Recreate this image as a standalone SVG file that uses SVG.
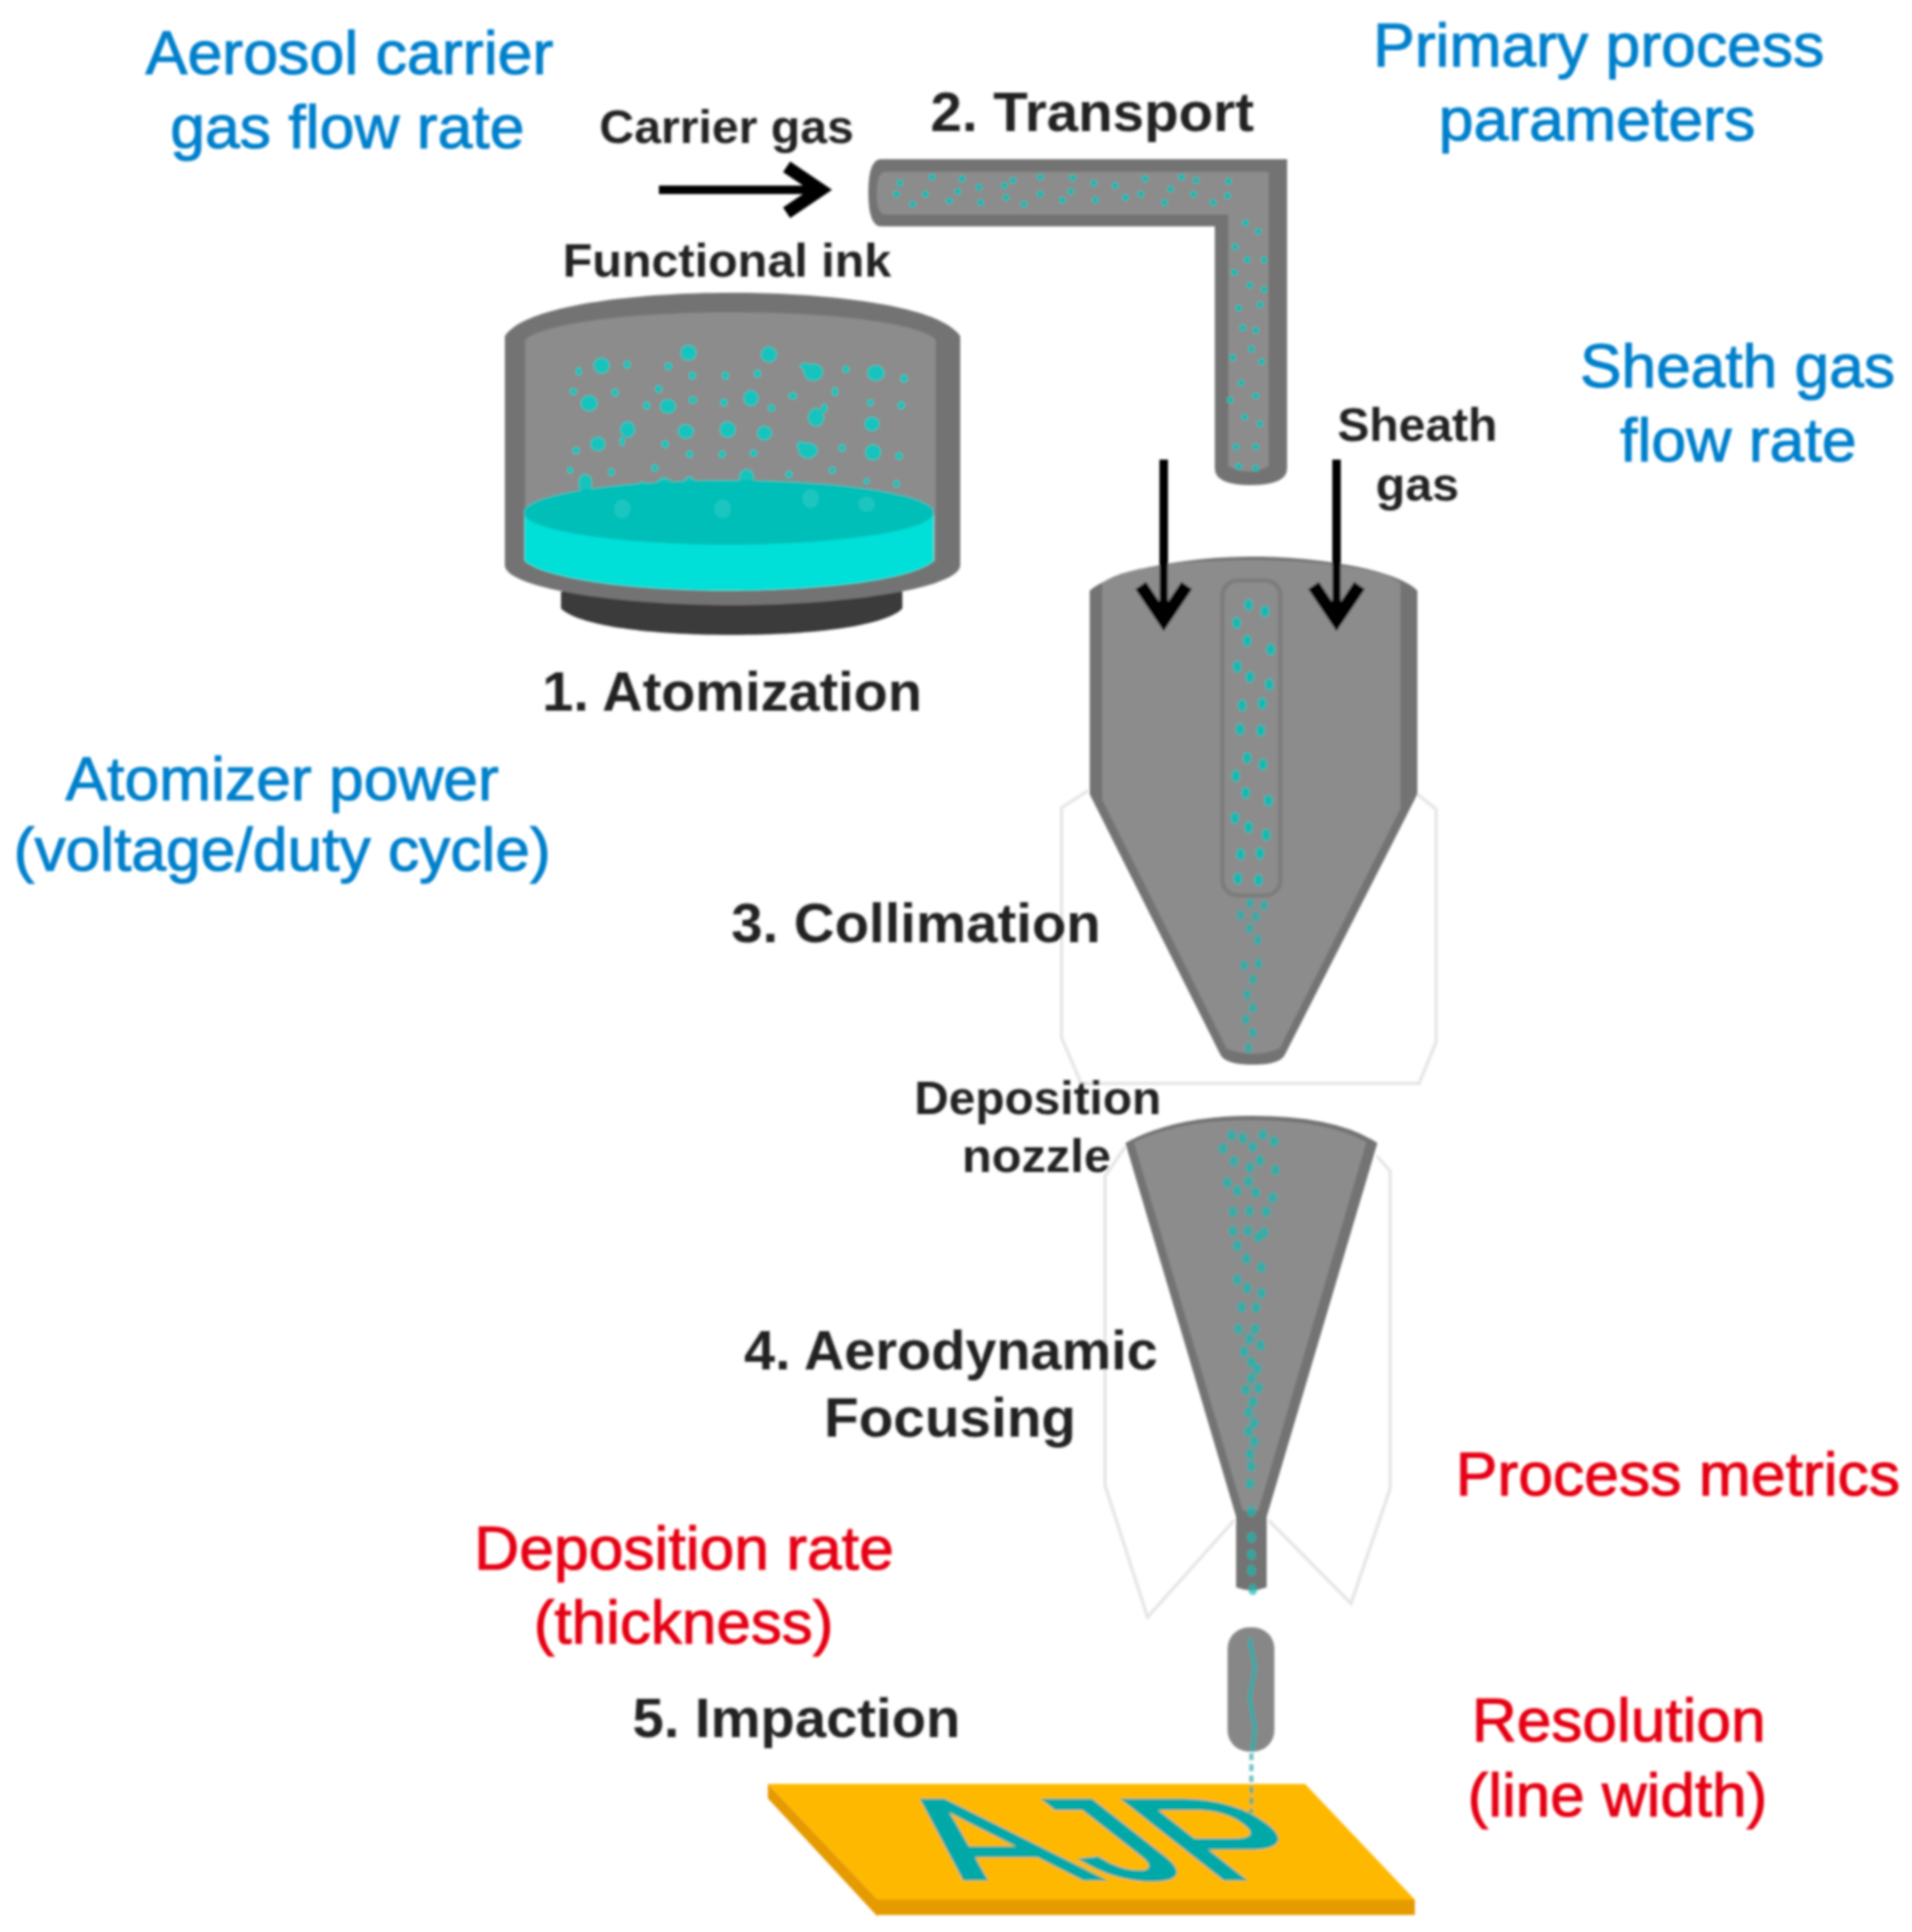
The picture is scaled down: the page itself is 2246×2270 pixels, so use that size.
<svg xmlns="http://www.w3.org/2000/svg" width="2246" height="2270" viewBox="0 0 2246 2270">
<style>
text{font-family:"Liberation Sans",Arial,sans-serif}
.b{fill:#0080cc;stroke:#0080cc;stroke-width:1.2px;font-size:72px}
.r{fill:#e60012;stroke:#e60012;stroke-width:1.2px;font-size:72px}
.k{fill:#222;font-weight:bold;font-size:64px}
.s{fill:#222;font-weight:bold;font-size:55px}
.o{fill:#737373}
.i{fill:#8c8c8c}
.f{fill:none;stroke:#e6e6e6;stroke-width:4}
.d{fill:none;stroke:#14b9b2;stroke-linecap:round}
.a{fill:none;stroke:#000;stroke-width:10}
</style>
<defs>
<filter id="soft" filterUnits="userSpaceOnUse" x="0" y="0" width="2246" height="2270"><feGaussianBlur stdDeviation="1.8"/></filter>
<marker id="head" markerUnits="userSpaceOnUse" markerWidth="70" markerHeight="70" refX="52" refY="30" orient="auto" overflow="visible"><path d="M8 3L48 30L8 57" fill="none" stroke="#000" stroke-width="15"/></marker>
</defs>
<rect width="2246" height="2270" fill="#fff"/>
<g filter="url(#soft)">
<g id="outlines">
<path class="f" d="M1278 929L1247 949V1219L1270 1273H1667L1687 1224V951L1665 933"/>
<path class="f" d="M1322 1347L1298 1382V1745L1348 1900L1450 1786"/>
<path class="f" d="M1617 1358L1633 1376V1749L1587 1884L1490 1786"/>
</g>
<g id="atomizer">
<path d="M659 695V715C680 735 760 746 860 746S1040 735 1060 715V695Z" fill="#3a3a3a"/>
<path class="o" d="M593 664V395C615 360 740 344 860 344S1105 360 1128 395V664C1128 690 1000 711 860 711S593 690 593 664Z"/>
<path class="i" d="M617 399C640 380 740 367 860 367S1080 380 1099 399V660H617Z"/>
<g transform="translate(560 100) scale(.6378 .4337)" fill="#14c4bd">
<ellipse cx="230" cy="760" rx="15" ry="22"/><ellipse cx="188" cy="775" rx="6" ry="12"/><ellipse cx="277" cy="757" rx="7" ry="11"/><ellipse cx="353" cy="762" rx="7" ry="11"/><ellipse cx="390" cy="725" rx="15" ry="22"/><ellipse cx="538" cy="730" rx="15" ry="22"/><ellipse cx="397" cy="787" rx="7" ry="11"/><ellipse cx="458" cy="787" rx="7" ry="11"/><ellipse cx="517" cy="782" rx="7" ry="11"/><ellipse cx="620" cy="778" rx="18" ry="24"/><ellipse cx="605" cy="762" rx="10" ry="10"/><ellipse cx="680" cy="770" rx="7" ry="10"/><ellipse cx="735" cy="780" rx="16" ry="22"/><ellipse cx="787" cy="795" rx="7" ry="11"/><ellipse cx="178" cy="830" rx="7" ry="10"/><ellipse cx="255" cy="833" rx="7" ry="11"/><ellipse cx="335" cy="823" rx="7" ry="11"/><ellipse cx="207" cy="862" rx="16" ry="22"/><ellipse cx="313" cy="868" rx="7" ry="11"/><ellipse cx="352" cy="870" rx="15" ry="20"/><ellipse cx="398" cy="853" rx="8" ry="10"/><ellipse cx="455" cy="860" rx="7" ry="11"/><ellipse cx="505" cy="848" rx="14" ry="22"/><ellipse cx="543" cy="875" rx="7" ry="10"/><ellipse cx="582" cy="842" rx="8" ry="10"/><ellipse cx="660" cy="830" rx="6" ry="12"/><ellipse cx="725" cy="860" rx="6" ry="10"/><ellipse cx="782" cy="867" rx="7" ry="11"/><ellipse cx="625" cy="900" rx="15" ry="25"/><ellipse cx="640" cy="875" rx="6" ry="12"/><ellipse cx="728" cy="918" rx="14" ry="20"/><ellipse cx="278" cy="933" rx="14" ry="22"/><ellipse cx="268" cy="965" rx="5" ry="14"/><ellipse cx="385" cy="938" rx="15" ry="20"/><ellipse cx="462" cy="933" rx="15" ry="22"/><ellipse cx="530" cy="943" rx="14" ry="20"/><ellipse cx="223" cy="972" rx="14" ry="20"/><ellipse cx="347" cy="973" rx="7" ry="11"/><ellipse cx="183" cy="990" rx="7" ry="10"/><ellipse cx="392" cy="1000" rx="7" ry="10"/><ellipse cx="452" cy="1000" rx="7" ry="10"/><ellipse cx="510" cy="997" rx="7" ry="10"/><ellipse cx="610" cy="990" rx="18" ry="22"/><ellipse cx="597" cy="975" rx="8" ry="10"/><ellipse cx="673" cy="983" rx="7" ry="10"/><ellipse cx="730" cy="995" rx="15" ry="22"/><ellipse cx="778" cy="1005" rx="7" ry="10"/><ellipse cx="172" cy="1043" rx="6" ry="9"/><ellipse cx="248" cy="1048" rx="6" ry="11"/><ellipse cx="328" cy="1037" rx="7" ry="10"/><ellipse cx="655" cy="1043" rx="6" ry="10"/><ellipse cx="575" cy="1055" rx="7" ry="10"/><ellipse cx="718" cy="1073" rx="6" ry="8"/><ellipse cx="773" cy="1080" rx="6" ry="10"/><ellipse cx="200" cy="1078" rx="13" ry="25"/><ellipse cx="345" cy="1083" rx="15" ry="20"/><ellipse cx="392" cy="1075" rx="10" ry="15"/><ellipse cx="497" cy="1062" rx="14" ry="22"/><ellipse cx="535" cy="1085" rx="7" ry="8"/><ellipse cx="445" cy="1077" rx="7" ry="8"/><ellipse cx="305" cy="1082" rx="8" ry="8"/>
</g>
<path d="M616 605V659C640 680 740 694 856 694S1075 680 1097 659V605Z" fill="#00e0d8"/>
<ellipse cx="856" cy="602" rx="241" ry="38" fill="#00bfb8"/>
<g transform="translate(560 100) scale(.6378 .4337)" fill="#1cc6c0">
<ellipse cx="268" cy="1148" rx="15" ry="25"/><ellipse cx="453" cy="1148" rx="15" ry="25"/><ellipse cx="615" cy="1120" rx="15" ry="25"/><ellipse cx="718" cy="1135" rx="15" ry="20"/>
</g>
</g>
<g id="transport">
<path class="o" d="M1035 187H1512V550Q1512 570 1469 570Q1427 570 1427 550V266H1035Q1020 266 1020 226Q1020 187 1035 187Z"/>
<path class="i" d="M1040 202H1490V548Q1467 560 1443 548V252H1040Q1030 252 1030 227Q1030 202 1040 202Z"/>
<path class="d" stroke-width="8" d="M1057 215h0M1053 228h0M1072 240h0M1095 208h0M1087 228h0M1115 236h0M1130 210h0M1125 225h0M1150 220h0M1152 238h0M1180 218h0M1190 212h0M1182 232h0M1203 240h0M1222 208h0M1222 228h0M1248 235h0M1260 209h0M1258 225h0M1285 215h0M1287 235h0M1310 218h0M1322 232h0M1345 210h0M1340 228h0M1368 238h0M1388 208h0M1375 222h0M1405 212h0M1402 228h0M1425 238h0M1443 213h0M1442 230h0M1463 262h0M1478 272h0M1451 290h0M1465 305h0M1485 305h0M1450 320h0M1468 335h0M1485 340h0M1455 362h0M1480 358h0M1460 385h0M1475 388h0M1448 420h0M1470 410h0M1482 425h0M1458 450h0M1475 465h0M1445 470h0M1462 490h0M1480 498h0M1452 525h0M1475 525h0M1455 548h0M1475 550h0"/>
</g>
<g id="collimator">
<path class="o" d="M1280 694C1310 668 1400 654 1472 654S1640 668 1665 694V933L1510 1238Q1505 1251 1472 1251Q1438 1251 1433 1238L1280 933Z"/>
<path class="i" d="M1295 685C1320 665 1400 658 1472 658S1625 668 1645 685V950L1503 1232Q1472 1244 1441 1232L1295 940Z"/>
<rect class="i" x="1436" y="682" width="68" height="370" rx="18" stroke="#7b7b7b" stroke-width="5"/>
<g transform="translate(1200 620) scale(.3333 .4472)">
<path class="d" stroke-width="32" d="M800 203h0M858 220h0M758 250h0M795 297h0M878 320h0M760 365h0M805 392h0M873 412h0M777 467h0M848 462h0M770 530h0M843 533h0M795 605h0M850 622h0M755 652h0M790 697h0M870 717h0M752 763h0M800 787h0M862 807h0M772 858h0M840 856h0M762 922h0M835 926h0"/>
<path class="d" stroke-width="28" opacity=".65" d="M805 987h0M855 993h0M772 1018h0M825 1022h0M803 1053h0M832 1083h0M785 1150h0M835 1145h0M815 1187h0M795 1227h0M815 1262h0M790 1292h0M815 1327h0M800 1367h0"/>
</g>
</g>
<g id="nozzle">
<path class="o" d="M1322 1343Q1380 1311 1470 1311Q1570 1311 1618 1343L1488 1782V1865Q1470 1872 1452 1865V1782Z"/>
<path class="i" d="M1332 1342Q1385 1316 1470 1316Q1560 1316 1605 1342L1478 1775H1460Z"/>
<g transform="translate(1240 1280) scale(.3333 .408)">
<path class="d" stroke-width="32" opacity=".7" d="M620 132h0M660 140h0M730 130h0M770 150h0M590 170h0M695 165h0M628 207h0M720 205h0M685 225h0M775 232h0M605 268h0M680 265h0M640 292h0M705 297h0M765 312h0M625 352h0M683 350h0M742 352h0M625 408h0M677 407h0M715 425h0M735 412h0M640 450h0M672 487h0M725 512h0M640 548h0M675 572h0M725 587h0M655 627h0M707 628h0M645 690h0M703 690h0M683 718h0M722 737h0M665 755h0M690 785h0M710 805h0M690 832h0M670 865h0M715 860h0M695 900h0M680 930h0M700 960h0M680 985h0M700 1015h0M685 1050h0M690 1085h0M685 1135h0M690 1215h0M690 1290h0M690 1340h0M690 1385h0M695 1440h0"/>
</g>
</g>
<g id="substrate">
<path d="M902 2096L1031 2232V2252L902 2113Z" fill="#e59a00"/>
<path d="M1031 2232H1662V2250H1031Z" fill="#e59a00"/>
<path d="M902 2096H1533L1662 2232H1031Z" fill="#ffb800"/>
<text transform="matrix(1.81 0 1.27 1 1133 2208)" style="font-size:135px" fill="#00a9a8" stroke="#00a9a8" stroke-width="3">AJP</text>
</g>
<g id="impaction">
<rect x="1442" y="1912" width="55" height="146" rx="25" fill="#878787"/>
<path d="M1468 1925L1474 1960L1468 1995L1474 2030L1471 2058" fill="none" stroke="#3aa9a8" stroke-width="5"/>
<path d="M1470 2060L1470 2130" fill="none" stroke="#3aa9a8" stroke-width="5" stroke-dasharray="8 5" opacity=".7"/>
</g>
<g id="connectors">
<path class="a" marker-end="url(#head)" d="M774 223H968"/>
<path class="a" marker-end="url(#head)" d="M1367 540V732"/>
<path class="a" marker-end="url(#head)" d="M1570 540V732"/>
</g>
<g id="labels">
<text class="b" x="171" y="87" textLength="479" lengthAdjust="spacingAndGlyphs">Aerosol carrier</text>
<text class="b" x="200" y="174" textLength="416" lengthAdjust="spacingAndGlyphs">gas flow rate</text>
<text class="b" x="1613" y="78" textLength="530" lengthAdjust="spacingAndGlyphs">Primary process</text>
<text class="b" x="1690" y="165" textLength="372" lengthAdjust="spacingAndGlyphs">parameters</text>
<text class="b" x="1856" y="455" textLength="370" lengthAdjust="spacingAndGlyphs">Sheath gas</text>
<text class="b" x="1903" y="542" textLength="278" lengthAdjust="spacingAndGlyphs">flow rate</text>
<text class="b" x="77" y="940" textLength="509" lengthAdjust="spacingAndGlyphs">Atomizer power</text>
<text class="b" x="16" y="1023" textLength="631" lengthAdjust="spacingAndGlyphs">(voltage/duty cycle)</text>
<text class="s" x="704" y="168" textLength="299" lengthAdjust="spacingAndGlyphs">Carrier gas</text>
<text class="k" x="1093" y="154" textLength="380" lengthAdjust="spacingAndGlyphs">2. Transport</text>
<text class="s" x="661" y="325" textLength="386" lengthAdjust="spacingAndGlyphs">Functional ink</text>
<text class="k" x="637" y="835" textLength="446" lengthAdjust="spacingAndGlyphs">1. Atomization</text>
<text class="s" x="1571" y="518" textLength="188" lengthAdjust="spacingAndGlyphs">Sheath</text>
<text class="s" x="1616" y="588" textLength="98" lengthAdjust="spacingAndGlyphs">gas</text>
<text class="k" x="859" y="1107" textLength="434" lengthAdjust="spacingAndGlyphs">3. Collimation</text>
<text class="s" x="1074" y="1309" textLength="290" lengthAdjust="spacingAndGlyphs">Deposition</text>
<text class="s" x="1130" y="1377" textLength="175" lengthAdjust="spacingAndGlyphs">nozzle</text>
<text class="k" x="874" y="1609" textLength="486" lengthAdjust="spacingAndGlyphs">4. Aerodynamic</text>
<text class="k" x="968" y="1688" textLength="296" lengthAdjust="spacingAndGlyphs">Focusing</text>
<text class="k" x="743" y="2041" textLength="385" lengthAdjust="spacingAndGlyphs">5. Impaction</text>
<text class="r" x="1710" y="1757" textLength="522" lengthAdjust="spacingAndGlyphs">Process metrics</text>
<text class="r" x="557" y="1844" textLength="493" lengthAdjust="spacingAndGlyphs">Deposition rate</text>
<text class="r" x="627" y="1931" textLength="352" lengthAdjust="spacingAndGlyphs">(thickness)</text>
<text class="r" x="1729" y="2046" textLength="345" lengthAdjust="spacingAndGlyphs">Resolution</text>
<text class="r" x="1724" y="2134" textLength="352" lengthAdjust="spacingAndGlyphs">(line width)</text>
</g>
</g>
</svg>
